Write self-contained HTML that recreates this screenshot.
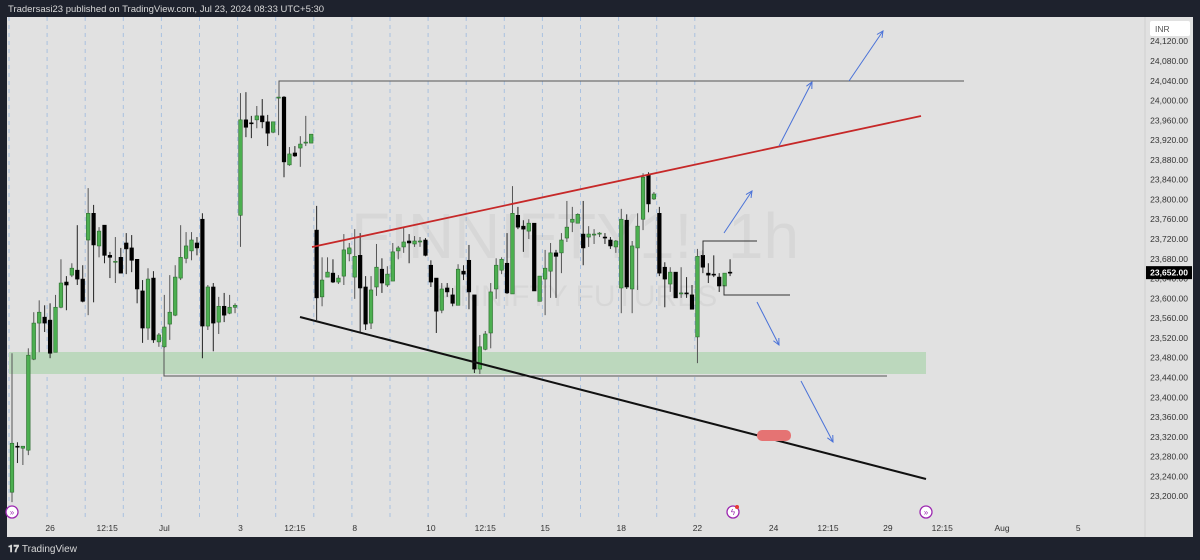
<!DOCTYPE html>
<html><head><meta charset="utf-8"><style>
html,body{margin:0;padding:0;background:#1e222d;width:1200px;height:560px;overflow:hidden;font-family:"Liberation Sans",sans-serif}
#wrap{position:relative;width:1200px;height:560px}
</style></head><body><div id="wrap">
<svg id="svg" width="1200" height="560" xmlns="http://www.w3.org/2000/svg">
<rect x="0" y="0" width="1200" height="560" fill="#1e222d"/>
<text x="8" y="12" font-size="9.5" fill="#d8d8d8" font-family="Liberation Sans, sans-serif">Tradersasi23 published on TradingView.com, Jul 23, 2024 08:33 UTC+5:30</text>
<rect x="7" y="17" width="1186" height="520" fill="#e1e1e1"/>
<g id="grid"></g>
<text x="575" y="258" font-size="64" fill="#000" fill-opacity="0.045" text-anchor="middle">FINNIFTY1!, 1h</text>
<text x="575" y="306" font-size="30" fill="#000" fill-opacity="0.045" text-anchor="middle">FINNIFTY FUTURES</text>
<rect x="9" y="352" width="917" height="22" fill="#bcd8bd"/>
<g id="candles"></g>
<g id="draw">
<polyline points="164,347 164,376 887,376" fill="none" stroke="#555" stroke-width="1"/>
<polyline points="279,97 279,81 964,81" fill="none" stroke="#555" stroke-width="1"/>
<polyline points="703,256 703,241 757,241" fill="none" stroke="#333" stroke-width="1"/>
<polyline points="724,285 724,295 790,295" fill="none" stroke="#333" stroke-width="1"/>
<line x1="312" y1="247" x2="921" y2="116" stroke="#c62828" stroke-width="1.8"/>
<line x1="300" y1="317" x2="926" y2="479" stroke="#111" stroke-width="2"/>
<rect x="757" y="430" width="34" height="11" rx="5" fill="#e57373"/>
</g>
<g id="arrows"></g>
<line x1="1145" y1="17" x2="1145" y2="537" stroke="#cfcfcf" stroke-width="1"/>
<g id="yaxis"></g>
<rect x="1150" y="21" width="40" height="15" fill="#fff" rx="2"/>
<text x="1155" y="32" font-size="8.5" fill="#555">INR</text>
<g id="last"></g>
<g id="xaxis"></g>
<g>
<circle cx="12" cy="512" r="6" fill="#fff" stroke="#9c27b0" stroke-width="1.3"/>
<text x="12" y="515" font-size="8" fill="#9c27b0" text-anchor="middle">»</text>
<circle cx="733" cy="512" r="6" fill="#fff" stroke="#9c27b0" stroke-width="1.3"/>
<text x="733" y="515" font-size="8" fill="#9c27b0" text-anchor="middle">ϟ</text>
<circle cx="737" cy="507" r="2" fill="#e53935"/>
<circle cx="926" cy="512" r="6" fill="#fff" stroke="#9c27b0" stroke-width="1.3"/>
<text x="926" y="515" font-size="8" fill="#9c27b0" text-anchor="middle">»</text>
</g>
<text x="8" y="552" font-size="10" fill="#d8d8d8" font-weight="bold">𝟏𝟕 <tspan font-weight="normal">TradingView</tspan></text>
</svg></div>
<script>
const opens=[23208,23301,23297,23293,23477,23550,23562,23556,23491,23582,23633,23647,23657,23639,23718,23772,23706,23748,23687,23673,23683,23712,23702,23679,23615,23540,23641,23512,23502,23548,23566,23641,23681,23696,23712,23760,23544,23623,23552,23584,23570,23582,23768,23961,23955,23961,23969,23957,23936,24005,24007,23870,23894,23904,23914,23914,23738,23603,23643,23651,23633,23645,23690,23643,23687,23623,23550,23623,23659,23627,23635,23696,23704,23716,23710,23716,23718,23667,23641,23576,23621,23607,23586,23655,23677,23607,23457,23497,23530,23619,23657,23671,23609,23768,23746,23736,23752,23594,23639,23655,23692,23692,23722,23754,23752,23730,23724,23728,23730,23724,23718,23704,23621,23758,23619,23702,23760,23849,23801,23772,23663,23629,23653,23611,23611,23607,23522,23687,23651,23649,23643,23625,23653];
const highs=[23489,23309,23299,23499,23572,23596,23586,23590,23607,23679,23645,23671,23748,23667,23823,23789,23744,23748,23694,23724,23702,23732,23728,23679,23637,23661,23655,23530,23607,23647,23667,23748,23734,23734,23724,23772,23627,23631,23603,23611,23607,23590,24015,24017,23969,23989,24003,23971,23957,24007,24009,23906,23908,23928,23969,23932,23787,23683,23683,23679,23647,23730,23712,23740,23732,23645,23645,23710,23681,23665,23712,23706,23744,23730,23726,23724,23722,23677,23641,23631,23631,23621,23669,23667,23708,23607,23526,23534,23631,23681,23683,23732,23827,23785,23758,23760,23752,23645,23698,23712,23698,23732,23797,23785,23772,23797,23746,23740,23734,23732,23724,23718,23781,23770,23716,23772,23853,23855,23815,23785,23673,23663,23653,23663,23643,23627,23700,23698,23671,23687,23651,23651,23679];
const lows=[23188,23267,23263,23283,23475,23491,23532,23479,23491,23580,23576,23643,23627,23592,23566,23592,23683,23671,23641,23631,23651,23649,23653,23590,23510,23516,23510,23502,23500,23516,23564,23637,23671,23677,23687,23479,23536,23493,23528,23552,23568,23570,23704,23926,23924,23944,23944,23908,23934,23930,23845,23868,23886,23866,23908,23914,23556,23584,23643,23631,23629,23627,23675,23599,23530,23536,23538,23605,23611,23623,23635,23679,23692,23671,23704,23704,23685,23623,23530,23570,23603,23584,23586,23637,23578,23449,23447,23495,23499,23599,23649,23609,23609,23740,23694,23720,23615,23594,23566,23601,23601,23651,23714,23734,23752,23667,23704,23710,23724,23710,23700,23692,23570,23619,23570,23617,23738,23774,23799,23645,23582,23613,23601,23601,23601,23578,23469,23651,23631,23643,23613,23625,23645];
const closes=[23307,23299,23301,23485,23550,23572,23550,23489,23582,23631,23627,23661,23639,23594,23772,23708,23736,23687,23683,23675,23651,23700,23677,23619,23540,23639,23516,23526,23542,23572,23643,23683,23706,23718,23702,23544,23623,23550,23584,23566,23582,23586,23961,23946,23954,23969,23957,23934,23957,24007,23876,23892,23888,23912,23916,23932,23601,23637,23653,23633,23641,23698,23702,23685,23621,23548,23617,23663,23631,23649,23694,23702,23714,23712,23716,23716,23687,23633,23574,23619,23613,23590,23659,23649,23613,23457,23502,23528,23613,23667,23679,23611,23772,23744,23740,23752,23615,23645,23661,23692,23685,23718,23744,23760,23770,23702,23730,23730,23732,23722,23706,23716,23760,23623,23706,23746,23845,23791,23811,23651,23639,23653,23601,23611,23609,23578,23685,23663,23647,23647,23625,23651,23652];
const priceTicks=[24120,24080,24040,24000,23960,23920,23880,23840,23800,23760,23720,23680,23640,23600,23560,23520,23480,23440,23400,23360,23320,23280,23240,23200];
const timeLabels=["26","12:15","Jul","3","12:15","8","10","12:15","15","18","22","24","12:15","29","12:15","Aug","5"];
const timeLabelBars=[7,17.5,28,42,52,63,77,87,98,112,126,140,150,161,171,182,196];
const lastPrice=23652;

const NS="http://www.w3.org/2000/svg";
const xOf=i=>12+i*5.44;
const yOf=p=>61+(24080-p)*0.4945;
function mk(tag,attrs,parent){const e=document.createElementNS(NS,tag);for(const k in attrs)e.setAttribute(k,attrs[k]);parent.appendChild(e);return e;}

const grid=document.getElementById('grid');
for(let k=0;k<=18;k++){
  const x=9+k*38.1;
  const l=mk('line',{x1:x,y1:17,x2:x,y2:517,stroke:'#a9c1e0','stroke-width':1,'stroke-dasharray':'4 4'},grid);
  
  
}

const cg=document.getElementById('candles');
for(let i=0;i<opens.length;i++){
  const o=opens[i],h=highs[i],l=lows[i],c=closes[i];
  const x=xOf(i),up=c>=o;
  const w=mk('line',{x1:x,y1:yOf(h),x2:x,y2:yOf(l),stroke:up?'#555':'#222','stroke-width':1},cg);
  
  
  const top=yOf(Math.max(o,c)),bot=yOf(Math.min(o,c));
  const b=mk('rect',{x:x-1.8,y:top,width:3.6,height:Math.max(1,bot-top),fill:up?'#4caf50':'#000',stroke:up?'#2e6b30':'#000','stroke-width':0.6},cg);
  
  
}

const ag=document.getElementById('arrows');
const arrows=[[849,81,883,31],[779,146,812,82],[724,233,752,191],[757,302,779,345],[801,381,833,442]];
arrows.forEach(a=>{
  const [x1,y1,x2,y2]=a;
  const ln=mk('line',{x1,y1,x2,y2,stroke:'#4a72d8','stroke-width':1},ag);
  
  
  const ang=Math.atan2(y2-y1,x2-x1),L=7;
  const p1=[x2-L*Math.cos(ang-0.45),y2-L*Math.sin(ang-0.45)],p2=[x2-L*Math.cos(ang+0.45),y2-L*Math.sin(ang+0.45)];
  const hd=mk('polyline',{points:`${p1} ${x2},${y2} ${p2}`,fill:'none',stroke:'#4a72d8','stroke-width':1},ag);
  
  
});

const ya=document.getElementById('yaxis');
priceTicks.forEach(p=>{
  const t=mk('text',{x:1188,y:yOf(p)+3,'font-size':8.5,fill:'#333','text-anchor':'end'},ya);
  t.textContent=p.toLocaleString('en-US',{minimumFractionDigits:2});
  
  
});

const lg=document.getElementById('last');
const ly=yOf(lastPrice);
const lr=mk('rect',{x:1146,y:ly-6.5,width:46,height:13,fill:'#000'},lg);


const lt=mk('text',{x:1188,y:ly+3,'font-size':8.5,fill:'#fff','text-anchor':'end','font-weight':'bold'},lg);
lt.textContent=lastPrice.toLocaleString('en-US',{minimumFractionDigits:2});



const xa=document.getElementById('xaxis');
timeLabels.forEach((s,i)=>{
  const t=mk('text',{x:xOf(timeLabelBars[i]),y:531,'font-size':8.5,fill:'#333','text-anchor':'middle'},xa);
  t.textContent=s;
  
  
});
</script></body></html>
